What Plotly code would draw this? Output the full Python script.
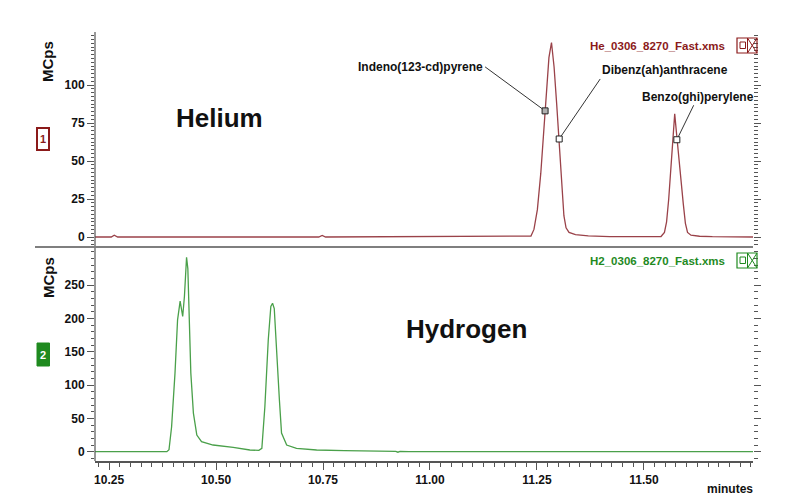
import plotly.graph_objects as go

# ---------------- data ----------------
he_time = [10.217, 10.255, 10.262, 10.270, 10.740, 10.748, 10.756, 11.225,
           11.236, 11.243, 11.251, 11.259, 11.265, 11.271, 11.278, 11.284,
           11.290, 11.296, 11.302, 11.308, 11.313, 11.318, 11.325, 11.340,
           11.370, 11.420, 11.540, 11.548, 11.553, 11.558, 11.563, 11.567,
           11.572, 11.577, 11.582, 11.587, 11.592, 11.597, 11.602, 11.610,
           11.630, 11.660, 11.755]
he_mcps = [0, 0, 1.2, 0, 0, 1.0, 0, 0.2,
           0.6, 5, 18, 42, 68, 92, 118, 128,
           112, 88, 64, 35, 14, 6, 3, 1.5,
           0.8, 0.3, 0.3, 3, 10, 25, 45, 65,
           81, 66, 50, 38, 22, 9, 3, 1.2,
           0.5, 0.2, 0]

h2_time = [10.217, 10.385, 10.390, 10.396, 10.404, 10.410, 10.416, 10.419,
           10.422, 10.426, 10.431, 10.434, 10.437, 10.441, 10.447, 10.455,
           10.466, 10.493, 10.540, 10.579, 10.600, 10.607, 10.614, 10.622,
           10.628, 10.632, 10.636, 10.641, 10.648, 10.653, 10.665, 10.688,
           10.735, 10.800, 10.880, 10.885, 10.890, 10.920, 10.925, 10.930,
           10.950, 11.755]
h2_mcps = [0, 0, 3, 37, 118, 198, 226, 215,
           203, 233, 292, 275, 208, 118, 58, 25,
           15, 10, 6.5, 2.5, 2, 5, 67, 168,
           218, 223, 215, 153, 78, 28, 10, 5,
           2.5, 1.5, 1, 0, 1, 0.5, -0.8, 0.5,
           0, 0]

peak_names = ["Indeno(123-cd)pyrene", "Dibenz(ah)anthracene", "Benzo(ghi)perylene"]
peak_time = [11.269, 11.302, 11.577]
peak_mcps = [83, 64.5, 64]

x_ticks = [10.25, 10.50, 10.75, 11.00, 11.25, 11.50]
he_yticks = [0, 25, 50, 75, 100]
h2_yticks = [0, 50, 100, 150, 200, 250]

# ---------------- geometry helpers (pixel -> paper) ----------------
W, H = 800, 500
L, R, T, B = 95, 47, 32, 39
PW, PH = W - L - R, H - T - B
SPLIT = (461 - 247) / PH


def px(x):
    return (x - L) / PW


def py(y):
    return (H - B - y) / PH


HE_COL = "#9a4249"
HE_TXT = "#8b1a1a"
H2_COL = "#4aa04a"
H2_TXT = "#1f8a1f"
AX_COL = "#555555"
FONT = "Liberation Sans, Arial, sans-serif"
TICKFONT = dict(family=FONT, size=12, color="#111111", weight="bold")

fig = go.Figure()
fig.add_trace(go.Scatter(x=he_time, y=he_mcps, mode="lines",
                         line=dict(color=HE_COL, width=1.3),
                         xaxis="x", yaxis="y", hoverinfo="skip"))
fig.add_trace(go.Scatter(x=h2_time, y=h2_mcps, mode="lines",
                         line=dict(color=H2_COL, width=1.3),
                         xaxis="x2", yaxis="y2", hoverinfo="skip"))
fig.add_trace(go.Scatter(x=peak_time, y=peak_mcps, mode="markers",
                         marker=dict(symbol="square", size=6,
                                     color=["#b0b0b0", "#ffffff", "#ffffff"],
                                     line=dict(color="#222222", width=1)),
                         xaxis="x", yaxis="y", hoverinfo="skip"))

xr = [10.217, 11.755]
common_y = dict(ticks="outside", ticklen=7, tickcolor=AX_COL, tickwidth=1,
                showline=False, mirror="ticks", showgrid=False, zeroline=False,
                tickfont=TICKFONT)

fig.update_layout(
    width=W, height=H,
    margin=dict(l=L, r=R, t=T, b=B),
    paper_bgcolor="white", plot_bgcolor="white",
    showlegend=False,
    font=dict(family=FONT),
    xaxis=dict(domain=[0, 1], anchor="y", range=xr, showticklabels=False,
               ticks="", showline=False, showgrid=False, zeroline=False),
    yaxis=dict(domain=[SPLIT, 1], anchor="x", range=[-6.58, 134.9],
               tickmode="array", tickvals=he_yticks,
               minor=dict(dtick=2.5, tick0=0, ticks="outside", ticklen=3.5,
                          tickcolor=AX_COL, showgrid=False),
               **common_y),
    xaxis2=dict(domain=[0, 1], anchor="y2", range=xr,
                tickmode="array", tickvals=x_ticks,
                ticktext=[f"{v:.2f}" for v in x_ticks],
                ticks="outside", ticklen=7, tickcolor=AX_COL,
                minor=dict(dtick=0.025, tick0=10.25, ticks="outside",
                           ticklen=4, tickcolor=AX_COL, showgrid=False),
                showline=True, linecolor=AX_COL, linewidth=1.5,
                showgrid=False, zeroline=False, tickfont=TICKFONT),
    yaxis2=dict(domain=[0, SPLIT], anchor="x2", range=[-14, 307.4],
                tickmode="array", tickvals=h2_yticks,
                minor=dict(dtick=10, tick0=0, ticks="outside", ticklen=3.5,
                           tickcolor=AX_COL, showgrid=False),
                **common_y),
)

shapes = []
# left axis line through both panels
shapes.append(dict(type="line", xref="paper", yref="paper", x0=0, x1=0,
                   y0=0, y1=1, line=dict(color=AX_COL, width=1.2)))
# panel separator
shapes.append(dict(type="line", xref="paper", yref="paper", x0=px(35), x1=1,
                   y0=SPLIT, y1=SPLIT, line=dict(color="#7f7f7f", width=2)))


def icon(y0, y1, col):
    out = []
    out.append(dict(type="rect", xref="paper", yref="paper",
                    x0=px(737), x1=px(757), y0=py(y1), y1=py(y0),
                    line=dict(color=col, width=1.2)))
    out.append(dict(type="rect", xref="paper", yref="paper",
                    x0=px(740), x1=px(745.5), y0=py(y1 - 4.5), y1=py(y0 + 4),
                    line=dict(color=col, width=1)))
    out.append(dict(type="line", xref="paper", yref="paper",
                    x0=px(747.5), x1=px(747.5), y0=py(y1), y1=py(y0),
                    line=dict(color=col, width=1)))
    out.append(dict(type="line", xref="paper", yref="paper",
                    x0=px(747.5), x1=px(757), y0=py(y0), y1=py(y1),
                    line=dict(color=col, width=1)))
    out.append(dict(type="line", xref="paper", yref="paper",
                    x0=px(747.5), x1=px(757), y0=py(y1), y1=py(y0),
                    line=dict(color=col, width=1)))
    return out


shapes += icon(38, 53, HE_TXT)
shapes += icon(253, 268, H2_TXT)
# trace-number boxes
shapes.append(dict(type="rect", xref="paper", yref="paper",
                   x0=px(37), x1=px(49), y0=py(150), y1=py(128),
                   line=dict(color=HE_TXT, width=2), fillcolor="white"))
shapes.append(dict(type="rect", xref="paper", yref="paper",
                   x0=px(37), x1=px(49.5), y0=py(366), y1=py(343),
                   line=dict(color=H2_TXT, width=1), fillcolor=H2_TXT))
fig.update_layout(shapes=shapes)

ann = []


def txt(x, y, s, size=12, color="#111111", bold=True, xanchor="center",
        textangle=0):
    ann.append(dict(xref="paper", yref="paper", x=px(x), y=py(y), text=s,
                    showarrow=False, xanchor=xanchor, yanchor="middle",
                    textangle=textangle,
                    font=dict(family=FONT, size=size, color=color,
                              weight="bold" if bold else "normal")))


txt(219, 118, "Helium", size=26)
txt(466, 329, "Hydrogen", size=26)
txt(48, 62, "MCps", size=15, textangle=-90)
txt(48, 278, "MCps", size=15, textangle=-90)
txt(43, 139, "1", size=11, color=HE_TXT)
txt(43, 355, "2", size=11, color="white")
txt(727, 46, "He_0306_8270_Fast.xms", size=11.5, color=HE_TXT, xanchor="right")
txt(727, 261, "H2_0306_8270_Fast.xms", size=11.5, color=H2_TXT, xanchor="right")
txt(730, 489, "minutes", size=12)

# peak labels with leader lines
lab_ax = [-60, 41, 21]
lab_ay = [-44, -60, -43]
lab_xanchor = ["right", "left", "center"]
lab_yanchor = ["middle", "bottom", "middle"]
for name, t, v, dx, dy, xa, ya in zip(peak_names, peak_time, peak_mcps,
                                      lab_ax, lab_ay, lab_xanchor, lab_yanchor):
    ann.append(dict(xref="x", yref="y", x=t, y=v, text=name,
                    showarrow=True, arrowhead=0, arrowwidth=1,
                    arrowcolor="#333333", ax=dx, ay=dy,
                    xanchor=xa, yanchor=ya, standoff=3,
                    font=dict(family=FONT, size=12, color="#111111",
                              weight="bold")))

fig.update_layout(annotations=ann)
fig.write_html(
    "out.html",
    config={"displayModeBar": False},
    post_script="document.body.style.margin='0';"
                "document.body.style.overflow='hidden';",
)
